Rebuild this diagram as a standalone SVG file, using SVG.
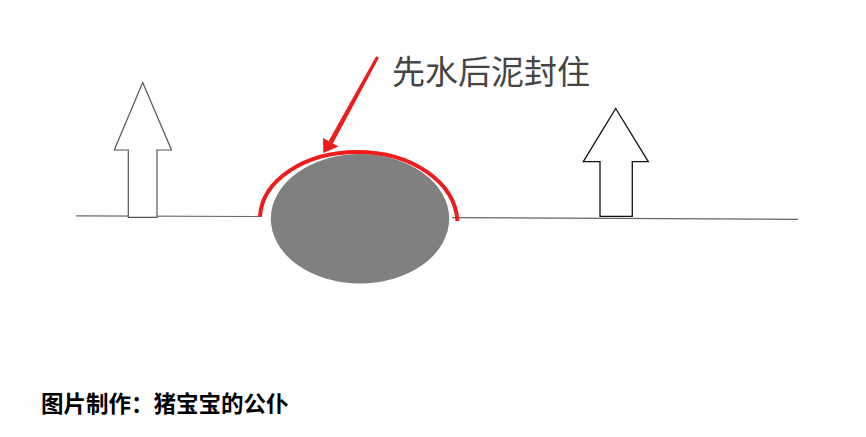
<svg xmlns="http://www.w3.org/2000/svg" width="866" height="437" viewBox="0 0 866 437">
<style>
.ground{stroke:#666;stroke-width:1.2;fill:none}
.up{fill:#fff;stroke:#555;stroke-width:1.2;stroke-linejoin:miter}
.up2{fill:#fff;stroke:#111;stroke-width:1.3}
.seal{fill:none;stroke:#ee1c1c;stroke-width:4}
.cn{font-family:"Noto Sans CJK SC","Noto Sans",sans-serif}
</style>
<rect width="866" height="437" fill="#fff"/>
<g id="ground">
<line class="ground" x1="76" y1="215.8" x2="262" y2="216.5"/>
<line class="ground" x1="452" y1="217.6" x2="798" y2="219.3"/>
</g>
<g id="arrow-left">
<polygon class="up" points="142.7,82.5 171.5,150 157,150 157,217.3 128.3,217.3 128.3,150 114.3,150"/>
</g>
<g id="arrow-right">
<polygon class="up2" points="615.7,108.5 648.3,161.7 632.3,161.7 632.3,216.3 600,216.3 600,161.7 583.3,161.7"/>
</g>
<g id="stone">
<ellipse cx="360" cy="218.7" rx="89.2" ry="64.7" fill="#808080"/>
</g>
<g id="seal">
<path class="seal" d="M260,216.5 C262,180 305,152 357,152 C412,152 455,182 457.5,221"/>
</g>
<g id="connectors">
<path d="M378,58 L376.5,57.2 L329.5,141 L332.5,142.7 Z" fill="#ee1c1c" stroke="#ee1c1c" stroke-width="1.5" stroke-linejoin="round"/>
<polygon points="323.3,153 323,138 338.5,146.5" fill="#ee1c1c"/>
</g>
<g id="label">
<text class="cn" x="392" y="84" font-size="33" fill="#454545">先水后泥封住</text>
</g>
<g id="credit">
<text class="cn" x="41" y="412" font-size="22.5" font-weight="bold" fill="#000">图片制作：猪宝宝的公仆</text>
</g>
</svg>
